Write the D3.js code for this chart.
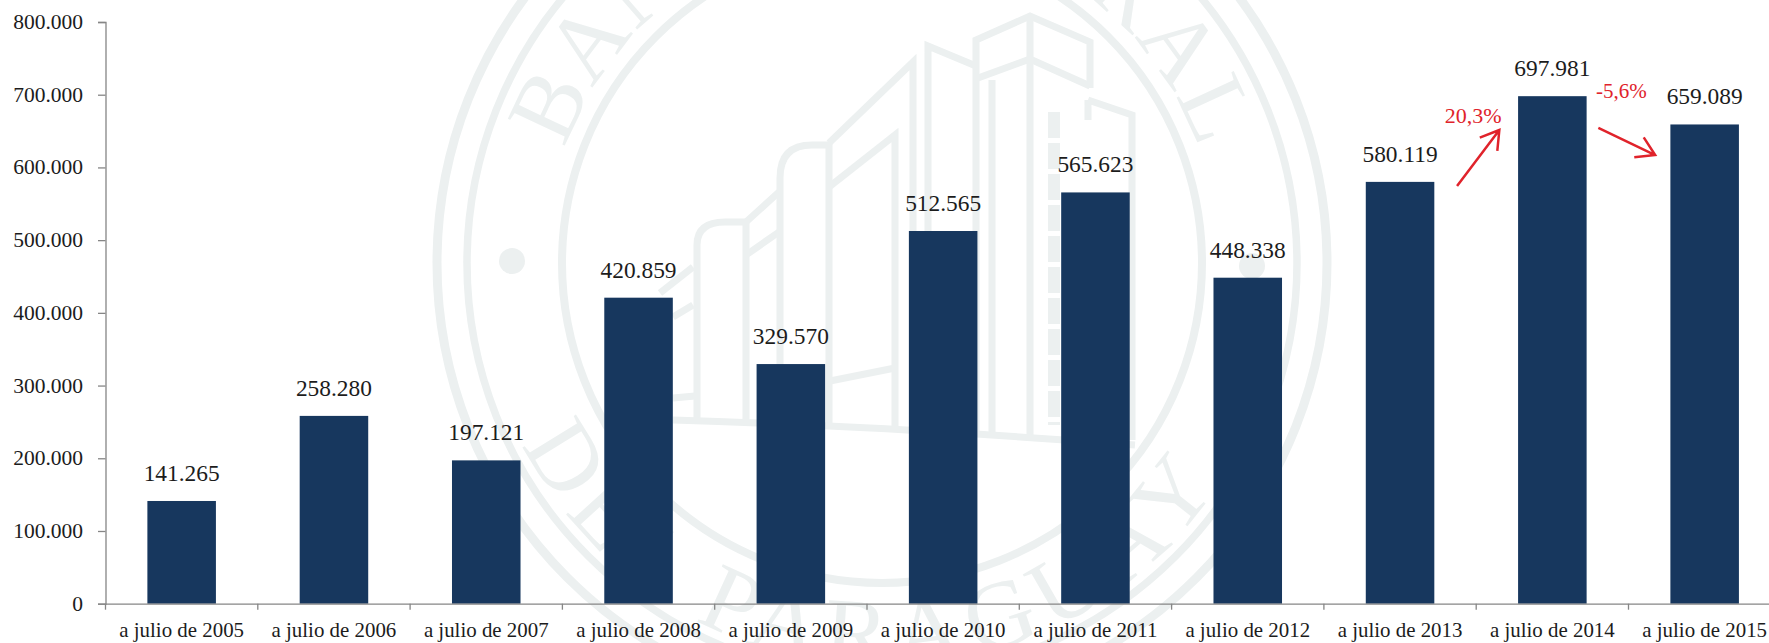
<!DOCTYPE html>
<html lang="es">
<head>
<meta charset="utf-8">
<script src="https://cdn.jsdelivr.net/npm/d3@7/dist/d3.min.js"></script>
<style>
html,body{margin:0;padding:0;background:#fff;overflow:hidden}
svg{display:block}
text{font-family:"Liberation Serif",serif}
</style>
</head>
<body>
<svg id="chart" width="1769" height="643"></svg>
<script>
const categories = ["a julio de 2005","a julio de 2006","a julio de 2007","a julio de 2008","a julio de 2009","a julio de 2010","a julio de 2011","a julio de 2012","a julio de 2013","a julio de 2014","a julio de 2015"];
const values = [141265,258280,197121,420859,329570,512565,565623,448338,580119,697981,659089];
const yTicks = [0,100000,200000,300000,400000,500000,600000,700000,800000];
const changeLabels = [
  {text:"20,3%", cat:"a julio de 2013", dx:73,  value:661000, size:22},
  {text:"-5,6%", cat:"a julio de 2014", dx:69,  value:695500, size:21}
];
const changeArrows = [
  {fromCat:"a julio de 2013", fromDx:57, fromValue:574600, toCat:"a julio de 2014", toDx:-53, toValue:651500},
  {fromCat:"a julio de 2014", fromDx:46, fromValue:654300, toCat:"a julio de 2015", toDx:-49.5, toValue:617000}
];

const W = 1769, H = 643;
const axisX = 105.5, baseY = 603.7, topY = 22, step = 152.3;
const svg = d3.select("#chart");

/* ---------- seal watermark behind the chart ---------- */
const wmColor = "#ecf0f0";
const wm = svg.append("g").attr("class","watermark");
const cx = 882, cy = 263;
[[445,9],[415,7.5],[320,8]].forEach(([r,w]) =>
  wm.append("circle").attr("cx",cx).attr("cy",cy).attr("r",r)
    .attr("fill","none").attr("stroke",wmColor).attr("stroke-width",w));
[[512,261],[1252,266]].forEach(([x,y]) =>
  wm.append("circle").attr("cx",x).attr("cy",y).attr("r",13).attr("fill",wmColor));

const arc = (r,a0,a1,sweep) => {
  const p = a => [cx + r*Math.sin(a*Math.PI/180), cy - r*Math.cos(a*Math.PI/180)];
  const [x0,y0] = p(a0), [x1,y1] = p(a1);
  return `M${x0},${y0}A${r},${r} 0 0 ${sweep} ${x1},${y1}`;
};
const defs = svg.append("defs");
defs.append("path").attr("id","sealTop").attr("d",arc(337,-85,85,1));
defs.append("path").attr("id","sealBottom").attr("d",arc(403,248.5,118.5,0));
const wmText = (id,txt,len) => wm.append("text")
  .attr("fill",wmColor).attr("font-size",96)
  .append("textPath").attr("href","#"+id).attr("startOffset","50%")
  .attr("text-anchor","middle").attr("textLength",len).attr("lengthAdjust","spacing").text(txt);
wmText("sealTop","BANCO CENTRAL",825);
wmText("sealBottom","DEL PARAGUAY",840);

const buildingPaths = [
  "M697,421V245Q697,222 725,222H746V424",
  "M746,222L779,192M746,255L779,232",
  "M780,425V178Q780,145 812,145H829V426",
  "M829,143L913,62V428M829,187L895,135V428",
  "M830,381L895,368",
  "M928,430V46L976,66",
  "M976,432V40L1030,16L1090,42V88",
  "M978,78L1030,59L1090,86",
  "M992,80V434M1030,16V436",
  "M1088,100L1132,115V440M1088,100V120",
  "M660,293L693,267M673,317L693,305",
  "M673,398L695,396",
  "M673,420Q880,426 1135,445"
];
wm.selectAll("path.bld").data(buildingPaths).join("path").attr("class","bld")
  .attr("d",d=>d).attr("fill","none").attr("stroke",wmColor).attr("stroke-width",7);
wm.append("path").attr("d","M1054,112V425").attr("fill","none").attr("stroke",wmColor)
  .attr("stroke-width",12).attr("stroke-dasharray","26 5");

/* ---------- scales ---------- */
const x = d3.scaleBand().domain(categories)
  .range([axisX, axisX + step*categories.length]).paddingInner(0.55).paddingOuter(0.275);
const y = d3.scaleLinear().domain([0,800000]).range([baseY,topY]);
const center = c => x(c) + x.bandwidth()/2;
const num = d3.formatLocale({decimal:",",thousands:".",grouping:[3],currency:["",""]}).format(",d");

/* ---------- bars ---------- */
const data = categories.map((c,i)=>({c,v:values[i]}));
svg.append("g").selectAll("rect").data(data).join("rect")
  .attr("x",d=>x(d.c)).attr("y",d=>y(d.v))
  .attr("width",x.bandwidth()).attr("height",d=>baseY-y(d.v)).attr("fill","#17375e");

/* ---------- axes ---------- */
const axisColor = "#868686", textColor = "#1c1c1c";
const gy = svg.append("g").attr("transform",`translate(${axisX},0)`)
  .call(d3.axisLeft(y).tickValues(yTicks).tickFormat(num).tickSize(7.5).tickPadding(15));
const gx = svg.append("g").attr("transform",`translate(0,${baseY})`)
  .call(d3.axisBottom(x).tickSize(0).tickPadding(0));
gy.selectAll("path,line").attr("stroke",axisColor).attr("stroke-width",1.3);
gx.selectAll("path").attr("stroke",axisColor).attr("stroke-width",1.3);
gy.selectAll("text").attr("font-size",21.5).attr("fill",textColor).attr("font-family","Liberation Serif").attr("dy","0.3em");
gx.selectAll("text").attr("font-size",20.9).attr("fill",textColor).attr("font-family","Liberation Serif")
  .attr("y",33).attr("dy",0);
svg.append("g").selectAll("line").data(categories).join("line")
  .attr("x1",d=>x(d)-x.step()*x.paddingInner()/2).attr("x2",d=>x(d)-x.step()*x.paddingInner()/2)
  .attr("y1",baseY).attr("y2",baseY+6).attr("stroke",axisColor).attr("stroke-width",1.3);

/* ---------- value labels ---------- */
svg.append("g").selectAll("text").data(data).join("text")
  .attr("x",d=>center(d.c)).attr("y",d=>y(d.v)-20)
  .attr("text-anchor","middle").attr("font-size",23.4).attr("fill",textColor).text(d=>num(d.v));

/* ---------- change annotations ---------- */
const red = "#e0232b";
svg.append("g").selectAll("text").data(changeLabels).join("text")
  .attr("x",d=>center(d.cat)+d.dx).attr("y",d=>y(d.value))
  .attr("text-anchor","middle").attr("font-size",d=>d.size).attr("fill",red).text(d=>d.text);
const ag = svg.append("g").attr("fill","none").attr("stroke",red).attr("stroke-width",2.5);
changeArrows.forEach(a=>{
  const x0=center(a.fromCat)+a.fromDx, y0=y(a.fromValue), x1=center(a.toCat)+a.toDx, y1=y(a.toValue);
  const ang=Math.atan2(y1-y0,x1-x0), hl=21, sp=0.55;
  ag.append("path").attr("d",
    `M${x0},${y0}L${x1},${y1}M${x1-hl*Math.cos(ang-sp)},${y1-hl*Math.sin(ang-sp)}L${x1},${y1}L${x1-hl*Math.cos(ang+sp)},${y1-hl*Math.sin(ang+sp)}`);
});
</script>
</body>
</html>
